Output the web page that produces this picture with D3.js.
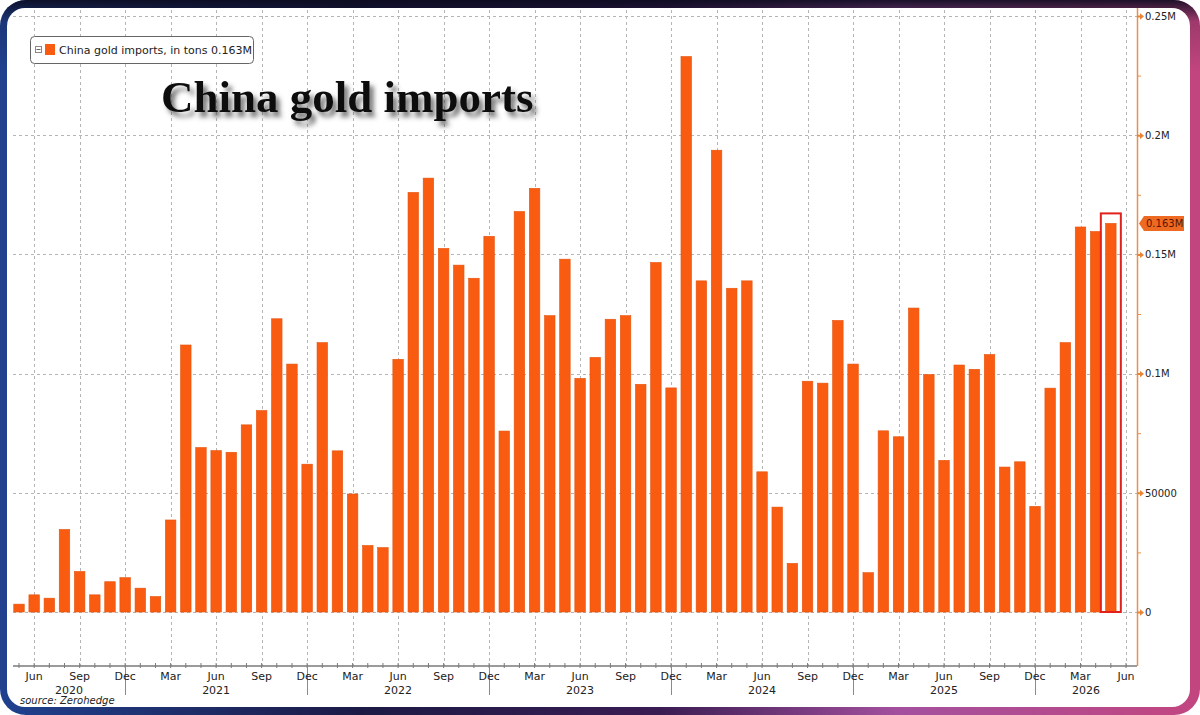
<!DOCTYPE html>
<html>
<head>
<meta charset="utf-8">
<title>China gold imports</title>
<script src="https://cdn.jsdelivr.net/npm/d3@7"></script>
<style>
  html, body { margin: 0; padding: 0; background: #fff; }
  svg { display: block; }
  text { font-family: 'DejaVu Sans', Verdana, sans-serif; }
</style>
</head>
<body>
<svg id="chart" width="1200" height="715"></svg>
<script>
// China gold imports - monthly bars, May 2020 .. May 2026
const firstMonth = new Date(2020, 4, 1);
const lastAxisMonth = new Date(2026, 5, 1);

const imports = [
  3300, 7200, 5800, 34600, 17000, 7200, 12700, 14400, 10000, 6500,
  38600, 112000, 69000, 67700, 67000, 78500, 84500, 123000, 104000, 62000,
  113000, 67600, 49500, 27900, 27000, 106000, 176000, 182000, 152500, 145500,
  140000, 157600, 75900, 168000, 177700, 124300, 148000, 98000, 106800, 122800,
  124300, 95500, 146600, 94000, 233000, 138900, 193700, 135800, 138900, 58800,
  44000, 20400, 96800, 96000, 122300, 104000, 16500, 76000, 73500, 127500,
  99600, 63600, 103600, 101800, 108000, 60800, 63000, 44300, 93900, 113000,
  161500, 159600, 163000
];

const yTicks = [0, 50000, 100000, 150000, 200000, 250000];
const yTickLabels = ['0', '50000', '0.1M', '0.15M', '0.2M', '0.25M'];
const yMinorTicks = [25000, 75000, 125000, 175000, 225000];
const quarterMonths = [2, 5, 8, 11]; // Mar, Jun, Sep, Dec
const years = [2020, 2021, 2022, 2023, 2024, 2025, 2026];

const titleText = 'China gold imports';
const legendText = 'China gold imports, in tons 0.163M';
const lastValueText = '0.163M';
const sourceText = 'source: Zerohedge';

const barColor = '#f95c11';
const axisOrange = '#e9914c';
const gridColor = '#b5b5b5';

function drawFrame(svg) {
  const defs = svg.append('defs');

  const horiz = defs.append('linearGradient').attr('id', 'frameH');
  [['0%', '#20418f'], ['30%', '#1c1a45'], ['55%', '#3a1c52'], ['75%', '#a4509e'], ['100%', '#c2457f']]
    .forEach(([o, c]) => horiz.append('stop').attr('offset', o).attr('stop-color', c));

  const vert = defs.append('linearGradient').attr('id', 'frameV')
    .attr('x1', 0).attr('y1', 0).attr('x2', 0).attr('y2', 1);
  vert.append('stop').attr('offset', '0%').attr('stop-color', '#0b0b1e').attr('stop-opacity', 0.9);
  vert.append('stop').attr('offset', '3%').attr('stop-color', '#0b0b1e').attr('stop-opacity', 0.2);
  vert.append('stop').attr('offset', '10%').attr('stop-color', '#0b0b1e').attr('stop-opacity', 0);

  const shadow = defs.append('filter').attr('id', 'titleShadow')
    .attr('x', '-10%').attr('y', '-30%').attr('width', '130%').attr('height', '180%');
  shadow.append('feDropShadow')
    .attr('dx', 4).attr('dy', 5).attr('stdDeviation', 2.5)
    .attr('flood-color', '#444').attr('flood-opacity', 0.75);

  svg.append('rect')
    .attr('x', 0).attr('y', 0).attr('width', 1200).attr('height', 715)
    .attr('rx', 26).attr('fill', 'url(#frameH)');
  svg.append('rect')
    .attr('x', 0).attr('y', 0).attr('width', 1200).attr('height', 715)
    .attr('rx', 26).attr('fill', 'url(#frameV)');
  svg.append('rect')
    .attr('x', 7).attr('y', 8).attr('width', 1183).attr('height', 699)
    .attr('rx', 18).attr('fill', '#fff');
}

function renderChart() {
  const svg = d3.select('#chart');
  drawFrame(svg);

  const plot = { left: 13, right: 1137, top: 10, axisY: 666 };

  const months = d3.timeMonth.range(firstMonth, d3.timeMonth.offset(lastAxisMonth, 1));
  const key = d3.timeFormat('%Y-%m');
  const data = imports.map((v, i) => ({ month: months[i], value: v }));

  const x = d3.scalePoint()
    .domain(months.map(key))
    .range([19, 1126]);

  const y = d3.scaleLinear()
    .domain([0, 250000])
    .range([612, 16]);

  const barWidth = 10.5;
  const quarterTicks = months.filter(m => quarterMonths.includes(m.getMonth()));
  const decTicks = months.filter(m => m.getMonth() === 11);

  // grid
  const grid = svg.append('g')
    .attr('stroke', gridColor)
    .attr('stroke-width', 1)
    .attr('stroke-dasharray', '3,3');

  grid.selectAll('.hgrid')
    .data(yTicks)
    .enter()
    .append('line')
    .attr('x1', plot.left).attr('x2', plot.right)
    .attr('y1', d => Math.round(y(d)) + 0.5)
    .attr('y2', d => Math.round(y(d)) + 0.5);

  grid.selectAll('.vgrid')
    .data(quarterTicks)
    .enter()
    .append('line')
    .attr('x1', d => Math.round(x(key(d))) + 0.5)
    .attr('x2', d => Math.round(x(key(d))) + 0.5)
    .attr('y1', plot.top).attr('y2', plot.axisY);

  // bars
  svg.append('g')
    .selectAll('.bar')
    .data(data)
    .enter()
    .append('rect')
    .attr('class', 'bar')
    .attr('x', d => x(key(d.month)) - barWidth / 2)
    .attr('y', d => y(d.value))
    .attr('width', barWidth)
    .attr('height', d => y(0) - y(d.value))
    .attr('fill', barColor)
    .attr('stroke', '#e4520c')
    .attr('stroke-width', 0.6);

  // highlight on latest bar
  const last = data[data.length - 1];
  svg.append('rect')
    .attr('x', x(key(last.month)) - 10)
    .attr('y', y(last.value) - 10)
    .attr('width', 20)
    .attr('height', y(0) - y(last.value) + 10)
    .attr('fill', 'none')
    .attr('stroke', '#e3211c')
    .attr('stroke-width', 2);

  // x axis
  const xAxis = svg.append('g')
    .attr('transform', `translate(0,${plot.axisY})`);

  xAxis.append('line')
    .attr('x1', plot.left).attr('x2', plot.right)
    .attr('stroke', '#7a7a7a')
    .attr('stroke-width', 1.5);

  xAxis.selectAll('.minor')
    .data(months)
    .enter()
    .append('line')
    .attr('x1', d => x(key(d))).attr('x2', d => x(key(d)))
    .attr('y1', -3).attr('y2', 2)
    .attr('stroke', '#7a7a7a');

  xAxis.selectAll('.sep')
    .data(decTicks)
    .enter()
    .append('line')
    .attr('x1', d => Math.round(x(key(d))) + 0.5)
    .attr('x2', d => Math.round(x(key(d))) + 0.5)
    .attr('y1', 0).attr('y2', 29)
    .attr('stroke', '#8a8a8a');

  xAxis.selectAll('.mlabel')
    .data(quarterTicks)
    .enter()
    .append('text')
    .attr('x', d => x(key(d)))
    .attr('y', 14)
    .attr('text-anchor', 'middle')
    .style('font-size', '11px')
    .style('fill', '#222')
    .text(d => d3.timeFormat('%b')(d));

  const yearSpan = yr => {
    const prev = decTicks.find(m => m.getFullYear() === yr - 1);
    const cur = decTicks.find(m => m.getFullYear() === yr);
    const a = prev ? x(key(prev)) : plot.left;
    const b = cur ? x(key(cur)) : plot.right;
    return (a + b) / 2;
  };

  xAxis.selectAll('.ylabel')
    .data(years)
    .enter()
    .append('text')
    .attr('x', d => yearSpan(d))
    .attr('y', 28)
    .attr('text-anchor', 'middle')
    .style('font-size', '11px')
    .style('fill', '#222')
    .text(d => d);

  // y axis on the right
  const yAxisG = svg.append('g')
    .attr('transform', `translate(${plot.right},0)`);

  yAxisG.append('line')
    .attr('x1', 0.5).attr('x2', 0.5)
    .attr('y1', plot.top - 2).attr('y2', plot.axisY)
    .attr('stroke', axisOrange)
    .attr('stroke-width', 1.5);

  yAxisG.append('g')
    .call(d3.axisRight(y).tickValues(yMinorTicks).tickSize(4).tickFormat(''))
    .call(g => g.select('.domain').remove())
    .call(g => g.selectAll('.tick line').attr('stroke', axisOrange));

  yAxisG.append('g')
    .call(d3.axisRight(y).tickValues(yTicks).tickSize(0).tickPadding(8)
      .tickFormat((d, i) => yTickLabels[i]))
    .call(g => g.select('.domain').remove())
    .call(g => g.selectAll('.tick text')
      .style('font-family', "'DejaVu Sans', Verdana, sans-serif")
      .style('font-size', '10px')
      .style('fill', '#222'))
    .call(g => g.selectAll('.tick').append('path')
      .attr('d', 'M0,-1H3L3,-3.2L7,0L3,3.2L3,1H0Z')
      .attr('fill', '#ec8330'));

  // last value tag
  const tagY = y(last.value);
  svg.append('path')
    .attr('d', `M${plot.right + 2},${tagY} L${plot.right + 7},${tagY - 7.5} H${plot.right + 47} V${tagY + 7.5} H${plot.right + 7} Z`)
    .attr('fill', '#ee6a22');
  svg.append('text')
    .attr('x', plot.right + 9)
    .attr('y', tagY + 3.6)
    .style('font-size', '10px')
    .style('fill', '#5a1300')
    .text(lastValueText);

  // legend
  const legend = svg.append('g');
  legend.append('rect')
    .attr('x', 30.5).attr('y', 36.5)
    .attr('width', 223).attr('height', 27)
    .attr('rx', 4)
    .attr('fill', '#fff')
    .attr('stroke', '#666');
  legend.append('rect')
    .attr('x', 35.5).attr('y', 46.5)
    .attr('width', 6).attr('height', 6)
    .attr('fill', '#fff')
    .attr('stroke', '#888');
  legend.append('line')
    .attr('x1', 36.5).attr('x2', 40.5)
    .attr('y1', 49.5).attr('y2', 49.5)
    .attr('stroke', '#666');
  legend.append('rect')
    .attr('x', 45).attr('y', 44)
    .attr('width', 10).attr('height', 11)
    .attr('fill', barColor);
  legend.append('text')
    .attr('x', 59).attr('y', 54)
    .style('font-size', '11px')
    .style('fill', '#222')
    .text(legendText);

  // title
  svg.append('text')
    .attr('x', 161).attr('y', 112)
    .attr('filter', 'url(#titleShadow)')
    .style('font-family', "'Liberation Serif', 'Times New Roman', serif")
    .style('font-weight', 'bold')
    .style('font-size', '45px')
    .style('fill', '#111')
    .text(titleText);

  // source
  svg.append('text')
    .attr('x', 20).attr('y', 704)
    .style('font-size', '10px')
    .style('font-style', 'italic')
    .style('fill', '#222')
    .text(sourceText);
}

document.addEventListener('DOMContentLoaded', renderChart);
</script>
</body>
</html>
